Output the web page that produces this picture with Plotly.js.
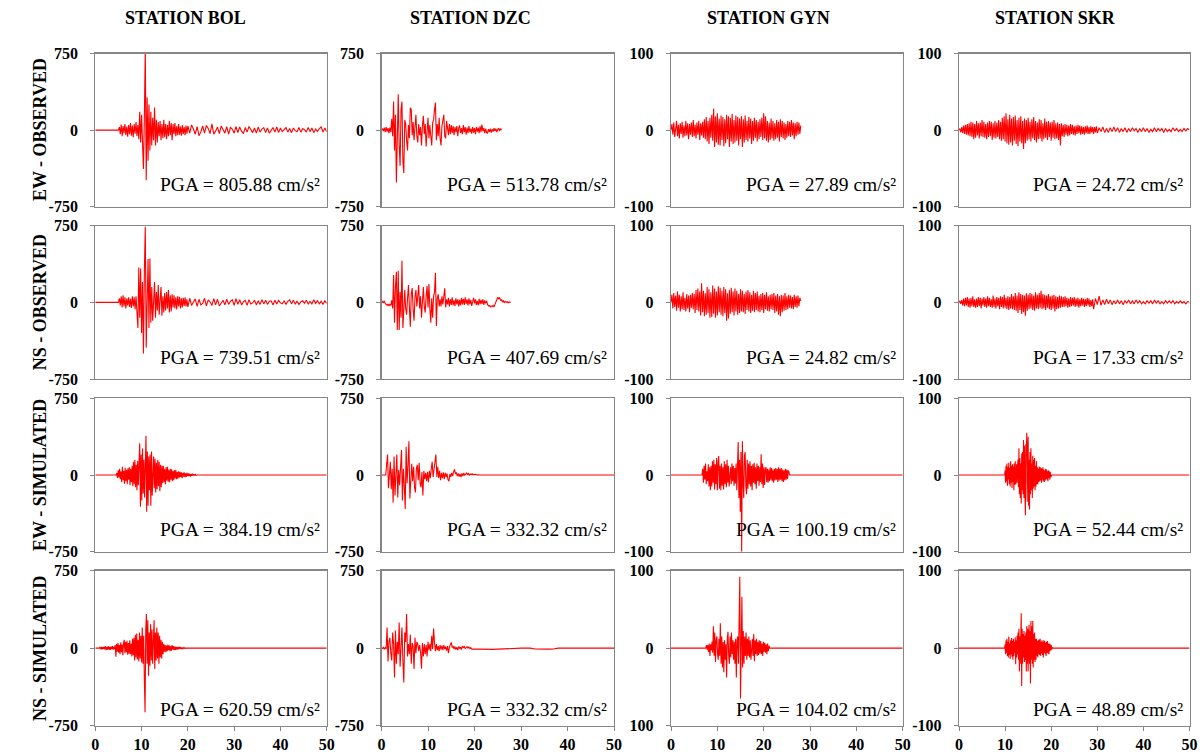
<!DOCTYPE html>
<html>
<head>
<meta charset="utf-8">
<script src="https://cdn.plot.ly/plotly-3.0.1.min.js"></script>
<style>
html, body { margin: 0; padding: 0; background: #ffffff; }
#chart { width: 1204px; height: 756px; }
</style>
</head>
<body>
<div id="chart"></div>
<script>
// ---------------- DATA ----------------
const STATIONS = ['BOL', 'DZC', 'GYN', 'SKR'];
const COMPONENTS = ['EW - OBSERVED', 'NS - OBSERVED', 'EW - SIMULATED', 'NS - SIMULATED'];
const PGA_EW_OBS = ['805.88', '513.78', '27.89', '24.72'];
const PGA_NS_OBS = ['739.51', '407.69', '24.82', '17.33'];
const PGA_EW_SIM = ['384.19', '332.32', '100.19', '52.44'];
const PGA_NS_SIM = ['620.59', '332.32', '104.02', '48.89'];
const X_TICKS = [0, 10, 20, 30, 40, 50];
const Y_TICKS_LARGE = [-750, 0, 750];
const Y_TICKS_SMALL = [-100, 0, 100];
const Y_TICKTEXT_GYN_NS_SIM = ['100', '0', '100'];
const RECORD_END = 50; // s

// sampling of each record: [first sample time (s), step (s), tail step (s)]
// accelerations in cm/s²
const BOL_EW_OBS_T = [5.0, 0.2, 0.4];
const BOL_EW_OBS = [0, 30, -40, 55, -60, 40, -30, 60, -50, 35, -65, 50, -40, 70, -55, 45, -70, 60, -35, 80,
  -60, 50, -90, 180, -120, 150, -250, -380, 120, 805.88, -490, 320, -300, 250, -200, 180, -150, 120, -100, 220,
  -150, 100, -120, 80, -60, 90, -100, 60, -80, 100, -70, 60, -90, 50, -60, 90, -50, 70, -100, 60,
  -40, 70, -60, 40, -50, 60, -45, 35, -55, 50, -40, 30, -50, 45, -35, 40];
const BOL_EW_OBS_TAIL = [-30, 50, 10, -40, 35, -55, -20, 40, -30, 45, 15, -35, 60, -40, -10, 30, -35, 40, 5, -30,
  35, -40, 25, 10, -30, 35, -25, 30, -10, -35, 25, -20, 35, 5, -25, 20, -30, 30, -20, 10,
  25, -25, 20, -30, -5, 25, -20, 30, -25, 20, -15, 10, 25, -20, 15, -25, 20, -5, -15, 25,
  -20, 15, 5, -20, 25, -15, 20, -25, 10, -15, 15, 30, -20, 20, -15];

const DZC_EW_OBS_T = [0, 0.2, 0.2];
const DZC_EW_OBS = [0, 15, -10, 25, -20, 30, -15, 20, -30, 25,
  -20, 110, -60, 280, -200, 150, -513.78, 100, 350, -150,
  -350, 200, 280, -300, -420, 100, 60, -100, -200, 50,
  -80, 220, 200, -50, 80, -100, 60, 150, -60, -120,
  60, -50, 30, -150, 40, 140, -40, 60, -160, 50,
  120, -80, 50, -60, -150, 70, 100, 200, 270, -100,
  60, -60, 120, -80, -150, 40, 80, 150, -60, -80,
  90, 30, -50, 60, -40, 50, -30, 40, -50, 30,
  -20, 40, -60, 20, 45, -30, 20, -40, 50, -20,
  30, -45, 25, -30, 40, -20, 15, -35, 30, -25,
  20, -40, 30, -15, 25, -30, 40, -20, 55, -10,
  20, -30, 15, -25, -30, 10, -20, 15, -25, 10,
  -15, 20, -10, 15, -20, 5, 20, -10, 15, 0];

const GYN_EW_OBS_T = [0, 0.2, 0.2];
const GYN_EW_OBS = [0, 8, -6, 10, -9, 5, 12, -8, 7, -11, 9, -5, 11, -10, 6, -8, 12, -7, 9, -12,
  8, -6, 10, -9, 13, -8, 7, -11, 10, -6, 12, -13, 9, -7, 11, -10,
  14, -12, 17, -15, 12, -18, 16, -10, 20, -14, 27.89, -22, 18, -16, 22, -19, 15, -20, 19, -13,
  17, -21, 14, -17, 20, -12, 18, -22, 16, -15, 21, -18, 13, -16, 19, -14, 17, -20, 15, -12,
  18, -22, 14, -16, 19, -13, 12, -15, 17, -11,
  15, -18, 12, -14, 16, -10, 13, -15, 11, -12, 14, -9, 16, -13, 22, -11, 18, -14, 12, -16,
  10, -13, 15, -11, 12, -14, 9, -12, 13, -10, 11, -15, 14, -9, 12, -11, 10, -13, 8, -10,
  12, -8, 11, -9, 13, -7, 10, -12, 9, -8, 11, -6, 10, -5, 6];

const SKR_EW_OBS_T = [0, 0.2, 0.4];
const SKR_EW_OBS = [0, 2, -3, 4, -4, 6, -5, 7, -6, 8, -7,
  9, -8, 11, -9, 10, -12, 8, -10, 12, -7, 9, -11, 10, -8, 13, -9, 11, -10, 8, -12,
  10, -9, 12, -8, 11, -13, 9, -10, 12, -11, 10, -9, 13, -12, 11,
  -14, 16, -12, 18, -15, 22, -17, 14, -19, 20, -16, 15, -20, 17, -14, 19, -18, 13, -21, 16,
  -15, 18, -17, 12, -24.72,
  15, -17, 13, -14, 16, -12, 11, -15, 14, -11, 17, -13, 12, -16, 10, -12, 14, -11, 13, -15,
  9, -12, 15, -10, 11, -13, 12, -9, 10, -14, 11, -10, 13, -12, 9, -11, 10, -13, 8, -20,
  9, -8, 7, -9, 8, -6, 7, -8, 6, -7, 8, -5, 7, -6, 5, -7, 6, -5, 7, -4,
  6, -6, 5, -5, 4, -6, 5, -4, 6, -5, 4, -5, 5, -3, 4, -5, 4, -3, 5, -4];
const SKR_EW_OBS_TAIL = [3, -2, 4, -3, 2, -3, 3, -2, 4, -2, 3, -3, 2, -2, 3, -3, 2, -2, 3, -1,
  2, -3, 2, -2, 3, -2, 2, -3, 1, -2, 3, -2, 2, -1, 2, -3, 2, -2, 1, -2,
  3, -1, 2, -2, 1, -2, 2, -1, 2, 0];

const BOL_NS_OBS_T = [5.0, 0.2, 0.4];
const BOL_NS_OBS = [0, 40, -30, 60, -50, 70, -40, 50, -60, 40, -30, 50, -45, 35, -55, 60, -40, 50, -70, 60,
  -80, -250, 340, -150, 330, -300, 200, -500, 300, 739.51, -443, 250, 424, -250, 430, -200, 150, -180, 120, 200,
  -150, 100, -80, 170, -120, 80, 150, -130, 60, -100, 90, -80, 100, -60, 120, -100, 70, -90, 80, -50,
  70, -60, 50, -70, 60, -40, 55, -60, 40, -50, 45, -35, 50, -40, 30, -45];
const BOL_NS_OBS_TAIL = [40, -30, 10, 35, -40, 30, -25, -10, 40, -35, 25, 5, -30, 35, -25, 30, -35, -5, 20, -25,
  30, -20, 10, 25, -30, 35, -20, 25, -25, 5, 20, -30, 25, -15, -5, 20, -25, 15, -20, 25,
  -15, 20, -20, 10, 15, -25, 20, -15, 20, -5, -15, 15, -20, 10, 25, -15, 20, -15, 10, -20,
  5, 15, -10, 20, -15, 10, -15, 25, -10, 15, -15, 10, -20, 15, -10];

const DZC_NS_OBS_T = [0, 0.2, 0.2];
const DZC_NS_OBS = [0, 10, -5, 15, -10, -20, -30, -15, -35, -20,
  -30, 20, -60, 267, -200, 150, 300, -270, 310, -270,
  100, -150, 407.69, -250, 50, 120, -60, -120, 40, 170,
  -50, -238, 80, 140, -60, -180, 50, 120, -40, 100,
  170, -60, 60, -150, 80, 150, -40, -100, 60, 160,
  -50, 180, -60, -200, 40, -150, 60, 100, 290, -231,
  40, 80, -40, 30, -40, 60, -20, 90, 137, -50,
  30, -20, 45, -40, 30, -25, 50, -30, 20, -35,
  40, -20, 30, -40, 25, -30, 45, -20, 35, -25,
  50, -15, 30, -30, 40, -20, 25, -35, 20, 45,
  -10, 30, -25, 15, -30, 35, -20, 25, -15, 30,
  -25, 20, -10, 15, -20, -35, -30, -45, -35, -40,
  -30, -45, -20, 10, 40, 50, 35, 45, 20, 25,
  5, 15, -5, 10, 0, 8, -5, 5, 0, 3];

const GYN_NS_OBS_T = [0, 0.2, 0.2];
const GYN_NS_OBS = [0, 10, -8, 12, -6, 9, -11, 14, -7, 10, -12, 8, -9, 13, -10, 6, -12, 11, -8, 9,
  -13, 10, -7, 12, -9, 11,
  -14, 16, -10, 18, -12, 14, -17, 24.82, -13, 15, -18, 12, -16, 20, -14, 17, -20, 13, -19, 22,
  -15, 18, -20, 14, -17, 21, -13, 19, -16, 15, -18, 20, -14, 17, -24, 12, -21, 16, -15, 19,
  -13, 14, -17, 18, -12, 15, -16, 11, -14, 17,
  -12, 15, -13, 11, -15, 14, -10, 16, -12, 13, -14, 10, -11, 15, -13, 12, -10, 14, -12, 9,
  -13, 11, -10, 12, -14, 10, -9, 13, -11, 8, -12, 10, -9, 11, -10,
  12, -14, 9, -12, 11, -16, 8, -18, 10, -13, 9, -11, 12, -10, 8, -9, 10, -7, 9, -8,
  7, -9, 10, -6, 8, -7, 9, -5, 6, 2];

const SKR_NS_OBS_T = [0, 0.2, 0.4];
const SKR_NS_OBS = [0, 2, -2, 3, -4, 5,
  -5, 6, -4, 7, -6, 5, -7, 6, -5, 8, -6, 4, -7, 5, -6, 7, -5, 6, -8, 5,
  -4, 7, -6, 5, -7, 8, -5, 6, -6, 4, -7, 9, -6, 5, -8, 7, -5, 6, -9, 8,
  -6, 7, -8, 10, -7, 6, -9, 8, -10, 7, -8, 11, -9, 8, -10,
  12, -11, 9, -14, 13, -10, 11, -15, 10, -13, 9, -17.33, 12, -11,
  10, -9, 12, -8, 11, -10, 9, -11, 13, -8, 10, -9, 12, -7,
  15, -9, 11, -8, 10, -10, 9, -7, 11, -9, 8, -10, 9, -8, 10, -12, 8, -9, 7, -8, 9, -7, 8, -6,
  7, -6, 8, -5, 6, -7, 5, -6, 7, -5, 6, -4, 7, -6, 5, -5, 6, -7, 4, -5,
  6, -4, 5, -6, 4, -5, 6, -4, 5, -6, 3, -5, 4, -9];
const SKR_NS_OBS_TAIL = [5, -3, 8, -4, 3, -3, 4, -2, 3, -3, 2, -2, 3, -2, 2, -3, 2, -1, 3, -2,
  2, -2, 3, -1, 2, -2, 1, -2, 2, -1, 2, -2, 3, -1, 2, -2, 1, -2, 2, -1,
  2, -1, 2, -2, 1, -1, 2, -1, 1, -2, 1, 0];

const BOL_EW_SIM_T = [4.5, 0.15, 0.15];
const BOL_EW_SIM = [0, 20, -30, 45, -25, 60, -40, 35, -70, 80, -50, 40, -85, 70, -60, 50, -90, 65, -45, 75,
  -100, 60, -70, 90,
  -110, 130, -90, 150, -120, 100, -150, 140, -100, 120,
  310, -310, 200, -250, 260, -180, 150, -220, 200, 384.19, -359, 230, -300, 180, -150, 200, -300, 230, -200, 150,
  180, -130, 160, -170, 120, -140, 150, -110, 130, -160, 100, -120, 90,
  -80, 90, -70, 60, -90, 75, -55, 80, -65, 50, -70, 60, -45, 55, -60, 40, -50, 45, -35, 50,
  -40, 30, -35,
  35, -25, 30, -20, 25, -30, 20, -15, 25, -20, 15, -18, 20, -12, 15, -10, 12, -15, 10, -8,
  12, -6, 8, -5, 6, -4, 3, 0];

const DZC_EW_SIM_T = [0.9, 0.2, 0.2];
const DZC_EW_SIM = [0, 100, 200, -130, 50, 130, -140, 60, -270, 180,
  -200, 80, 200, -220, 50, -100, 150, 245, -250, 60,
  -100, -332.32, 277, -80, 100, 330, -230, 50, 110, -60,
  80, -120, -170, 60, 100, -50, 120, -80, -120, 30,
  -200, 40, -40, 20, -60, 30, -70, 40, -30, 60,
  130, -20, 80, 150, 200, -20, 80, -30, 40, -50,
  20, -30, 25, -40, 20, -20, 15, -45, -60, 10,
  -20, 20, -10, 30, 55, 10, 25, -10, 15, -15,
  10, -20, 15, -10, 20, -5, 15, 20, 5, 15,
  -5, 10, 5, 12, 0, 8, 3, 6, 0, 4,
  2, 0];

const GYN_EW_SIM_T = [6.7, 0.15, 0.15];
const GYN_EW_SIM = [0, 8, -10, 12, -6, 15, -12, 5, -8, 14, -15, 10, -20, 12,
  -15, 18, -10, 20, -19, 14, -12, 22, -20, 16, 24.8, -18, 12, -20, 15, -14, 10, -19, 18, -12,
  14, -16, 20, -10, 12, -15, 8,
  10, -12, 15, -8, 12, -14, 9, -11, 15, -20, 25, 43, -30, 20, -48, 30, -100.19, 44, -10, -30,
  25, 30, -15, -25, 20, -18, 15, -12,
  18, -15, 12, -20, 14, -10, 16, -12, 10, -18, 15, -8, 12, -14, 10, -9, 27, -12, 15, -17,
  10, -13, 8,
  10, -9, 8, -10, 7, -8, 10, -6, 9, -8, 7, -10, 8, -7, 9, -6, 8, -9, 10, -7,
  8, -6, 9, -8, 7, -9, 6, -7, 8, -6, 7, -5, 6, 4, 0];

const SKR_EW_SIM_T = [9.9, 0.1, 0.1];
const SKR_EW_SIM = [0, 6, -10, 12, -8, 15, -14, 10, -6, 16, -12, 9, -15, 18, -10, 12, -17, 14, -9, 11,
  -20, 15, -13, 18, -12,
  -8, 14, -10, 12, 20, -16, 35, -25, 22, -30, 15, -37, 28, -20, 30, -25, 45.6, -30, 38, -20,
  -52.44, 40, 25, 55, -35, 30, 50, -40, 20, -45, 30, -25, 35, -20, 15, -30, 25, -18, 20, -15,
  22, -20, 12, -15, 18, -12,
  10, -12, 8, -9, 11, -8, 10, -7, 9, -10, 8, -6, 10, -8, 7, -9, 6, -7, 8, -5,
  7, -6, 5, -8, 6, -4, 5, -6, 4, -3, -2, 0];

const BOL_NS_SIM_T = [0.85, 0.15, 0.15];
const BOL_NS_SIM = [0, 8, -10, 12, -15, 10, -8, 15, -12, 18, -20, 10, -14, 20, -16, 12, -18, 15, -10, 20,
  -15, 12, -10,
  30, -84, 40, -35, 50, -45, 30, -60, 55, -40, 35, -70, 45, 80, -50, 60, -40, 70, -65, 50,
  -55, 75, -60, 45, -80, 90, -70,
  100, -120, 130, -90, 140, -110, 80, -130, 150, -100, 120, -140, 200,
  -150, 120, -300, -620.59, 180, 330, -150, 270, -268, 150, -170, 230, -120, 180, -150, 100,
  270, -203, 150, -120, 200, -100, 150, -150, 120, -90, 80, -100, 60, -60,
  40, -35, 30, -40, 25, -30, 35, -20, 25, -30, 20, -25, 30, -15, 20, -20, 15, -18, 12, -15,
  10, -12, 15, -8, 10, -10, 6, -8, 5, -4, 3, -2, 0];

const DZC_NS_SIM_T = [0, 0.2, 1.0];
const DZC_NS_SIM = [0, -5, 8, -10, 5, -8, 200, -130, 60, 100,
  -50, -120, 150, 40, -284, 170, -150, 60, -60, 248,
  -180, 90, 200, -120, -332.32, 150, 60, 330, -80, 40,
  -60, 130, -150, 50, 20, -203, 100, -50, 60, 40,
  -30, 30, -40, -200, 50, -80, 40, -60, 30, -80,
  60, -20, 40, -30, 120, -10, 190, 60, -30, 40,
  -20, 20, -30, 30, -15, 25, -20, 30, -10, 15,
  -25, 20, -50, 10, 30, 55, 5, 20, -10, 15,
  -15, 10, -20, 15, -5, 10, -15, 20, 5, 15,
  -5, 10, 15, 0, 10, -5, 5, -10, -8, -12,
  -10];
const DZC_NS_SIM_TAIL = [-10, -12, -10, -12, -10, -8, 0, 0, 0, 0, 0, 0, -8, -10, -10, -10, -8, 0, 0, 0,
  0, 0, 0, 0, 0, 0, 0, 0, 0, 0];

const GYN_NS_SIM_T = [7.5, 0.15, 0.15];
const GYN_NS_SIM = [0, 4, -2, 4, -5, 6, -10, 5, -3, 8, -6,
  28, -10, 20, -18, 10, 15, -8, -15, 12, -10, 32, -20, 15, -25, 8, -31, 10, -15, 5, -38,
  12, 21, -10, -20, 15, -12, 20, -8, 10, -15, 8, -20, 12, -38, 10, 15,
  -20, 30, 92, -65, 20, 66, -25, 22, -20, 15, -10, 20, -15, 12,
  -10, 15, -12, 10, -15, 8, 12, -10, 18, -17, 10, -8, 12, -10, 8, -9, 10, -7, 9, -8,
  6, -10, 8, -5, 7, -6, 5, -8, 6, -4, 3, 0];

const SKR_NS_SIM_T = [9.9, 0.1, 0.1];
const SKR_NS_SIM = [0, 5, -8, 10, -6, 12, -10, 8, -12, 15, -9, 6, -14, 10, -8, 13, -11, 9, -15, 12,
  -10,
  8, -6, 14, -20.7, 10, -12, 16, -8, 20, -15,
  25, -30, 15, -20, 30, 44.8, -48.89, 25, -20, 18, -12, 22, -18, 16, -15, 20, -30, 28, -20, 25,
  -30, 15, 30, -20, 22, -45.7, 35, -15, 28, -20, 35, -25, 18, -15, 20, -18, 12, -15,
  12, -10, 9, -12, 10, -8, 11, -9, 12, -10, 8, -7, 10, -9, 8, -12, 10, -6, 9, -8,
  7, -10, 8, -6, 9, -7, 6, -8, 6, -4, 5, -3, 4, -2, 1, 0];

// ---------------- BUILD ----------------
const FONT = 'Liberation Serif, Times New Roman, serif';
const RED = '#ff0000';
const FRAME = '#868686';
const W = 1204, H = 756;
const COL_PX = [[95.3, 326.7], [381.5, 614], [671, 902.7], [959, 1189.5]];
const ROW_PX = [[53.5, 206.7], [225.7, 379], [398.3, 551.7], [570.5, 725.7]];
const TITLE_X_PX = [185, 470, 768, 1055];
const PGA_ROWS = [PGA_EW_OBS, PGA_NS_OBS, PGA_EW_SIM, PGA_NS_SIM];

// [sampling, values, tail, lead-in from t=0, pad to end of record]
const RECORDS = [
  [[BOL_EW_OBS_T, BOL_EW_OBS, BOL_EW_OBS_TAIL, true, false],
   [DZC_EW_OBS_T, DZC_EW_OBS, null, false, false],
   [GYN_EW_OBS_T, GYN_EW_OBS, null, false, false],
   [SKR_EW_OBS_T, SKR_EW_OBS, SKR_EW_OBS_TAIL, false, false]],
  [[BOL_NS_OBS_T, BOL_NS_OBS, BOL_NS_OBS_TAIL, true, false],
   [DZC_NS_OBS_T, DZC_NS_OBS, null, false, false],
   [GYN_NS_OBS_T, GYN_NS_OBS, null, false, false],
   [SKR_NS_OBS_T, SKR_NS_OBS, SKR_NS_OBS_TAIL, false, false]],
  [[BOL_EW_SIM_T, BOL_EW_SIM, null, true, true],
   [DZC_EW_SIM_T, DZC_EW_SIM, null, true, true],
   [GYN_EW_SIM_T, GYN_EW_SIM, null, true, true],
   [SKR_EW_SIM_T, SKR_EW_SIM, null, true, true]],
  [[BOL_NS_SIM_T, BOL_NS_SIM, null, true, true],
   [DZC_NS_SIM_T, DZC_NS_SIM, DZC_NS_SIM_TAIL, true, true],
   [GYN_NS_SIM_T, GYN_NS_SIM, null, true, true],
   [SKR_NS_SIM_T, SKR_NS_SIM, null, true, true]]
];

function buildSeries(t, v, tail, lead, pad) {
  const x = [], y = [];
  if (lead && t[0] > 0) { x.push(0); y.push(0); }
  v.forEach((a, i) => { x.push(+(t[0] + i * t[1]).toFixed(4)); y.push(a); });
  const last = t[0] + (v.length - 1) * t[1];
  if (tail) tail.forEach((a, i) => { x.push(+(last + (i + 1) * t[2]).toFixed(4)); y.push(a); });
  if (pad && x[x.length - 1] < RECORD_END) { x.push(RECORD_END); y.push(0); }
  return { x, y };
}

const data = [];
const layout = {
  width: W, height: H,
  margin: { l: 0, r: 0, t: 0, b: 0 },
  paper_bgcolor: '#ffffff',
  plot_bgcolor: '#ffffff',
  showlegend: false,
  annotations: []
};

for (let r = 0; r < 4; r++) {
  for (let c = 0; c < 4; c++) {
    const k = r * 4 + c + 1;
    const s = k === 1 ? '' : String(k);
    const rec = RECORDS[r][c];
    const ser = buildSeries(rec[0], rec[1], rec[2], rec[3], rec[4]);
    data.push({
      type: 'scatter', mode: 'lines', x: ser.x, y: ser.y,
      xaxis: 'x' + s, yaxis: 'y' + s,
      line: { color: RED, width: 1.1 },
      hoverinfo: 'skip'
    });
    const large = c < 2;
    const yt = large ? Y_TICKS_LARGE : Y_TICKS_SMALL;
    const ytext = (r === 3 && c === 2) ? Y_TICKTEXT_GYN_NS_SIM : yt.map(String);
    layout['xaxis' + s] = {
      domain: [COL_PX[c][0] / W, COL_PX[c][1] / W],
      anchor: 'y' + s,
      range: [0, RECORD_END],
      tickmode: 'array', tickvals: X_TICKS, ticktext: X_TICKS.map(String),
      showticklabels: r === 3,
      ticks: r === 3 ? 'outside' : '',
      ticklen: 4, tickcolor: FRAME, tickwidth: 1,
      ticklabelstandoff: 0,
      showline: true, mirror: true, linecolor: FRAME, linewidth: 1.2,
      showgrid: false, zeroline: false, fixedrange: true,
      tickfont: { family: FONT, size: 16, color: '#000000', weight: 'bold' }
    };
    layout['yaxis' + s] = {
      domain: [1 - ROW_PX[r][1] / H, 1 - ROW_PX[r][0] / H],
      anchor: 'x' + s,
      range: large ? [-750, 750] : [-100, 100],
      tickmode: 'array', tickvals: yt, ticktext: ytext,
      ticks: 'outside', ticklen: 4, tickcolor: FRAME, tickwidth: 1,
      ticklabelstandoff: 9,
      showline: true, mirror: true, linecolor: FRAME, linewidth: 1.2,
      showgrid: false, zeroline: false, fixedrange: true,
      tickfont: { family: FONT, size: 16, color: '#000000', weight: 'bold' }
    };
    const rowH = ROW_PX[r][1] - ROW_PX[r][0];
    const offPx = r === 3 ? 16 : 22;
    layout.annotations.push({
      xref: 'x' + s + ' domain', yref: 'y' + s + ' domain',
      x: 1 - 5 / (COL_PX[c][1] - COL_PX[c][0]), y: offPx / rowH,
      xanchor: 'right', yanchor: 'middle', showarrow: false,
      text: 'PGA = ' + PGA_ROWS[r][c] + ' cm/s²',
      font: { family: FONT, size: 19.5, color: '#000000' }
    });
  }
}

STATIONS.forEach((st, c) => {
  layout.annotations.push({
    xref: 'paper', yref: 'paper', x: TITLE_X_PX[c] / W, y: 1 - 18 / H,
    xanchor: 'center', yanchor: 'middle', showarrow: false,
    text: 'STATION ' + st,
    font: { family: FONT, size: 18, color: '#000000', weight: 'bold' }
  });
});

COMPONENTS.forEach((comp, r) => {
  const cy = (ROW_PX[r][0] + ROW_PX[r][1]) / 2;
  layout.annotations.push({
    xref: 'paper', yref: 'paper', x: 40 / W, y: 1 - cy / H,
    xanchor: 'center', yanchor: 'middle', showarrow: false, textangle: -90,
    text: comp,
    font: { family: FONT, size: 18, color: '#000000', weight: 'bold' }
  });
});

Plotly.newPlot('chart', data, layout, { displayModeBar: false, staticPlot: true });
</script>
</body>
</html>
